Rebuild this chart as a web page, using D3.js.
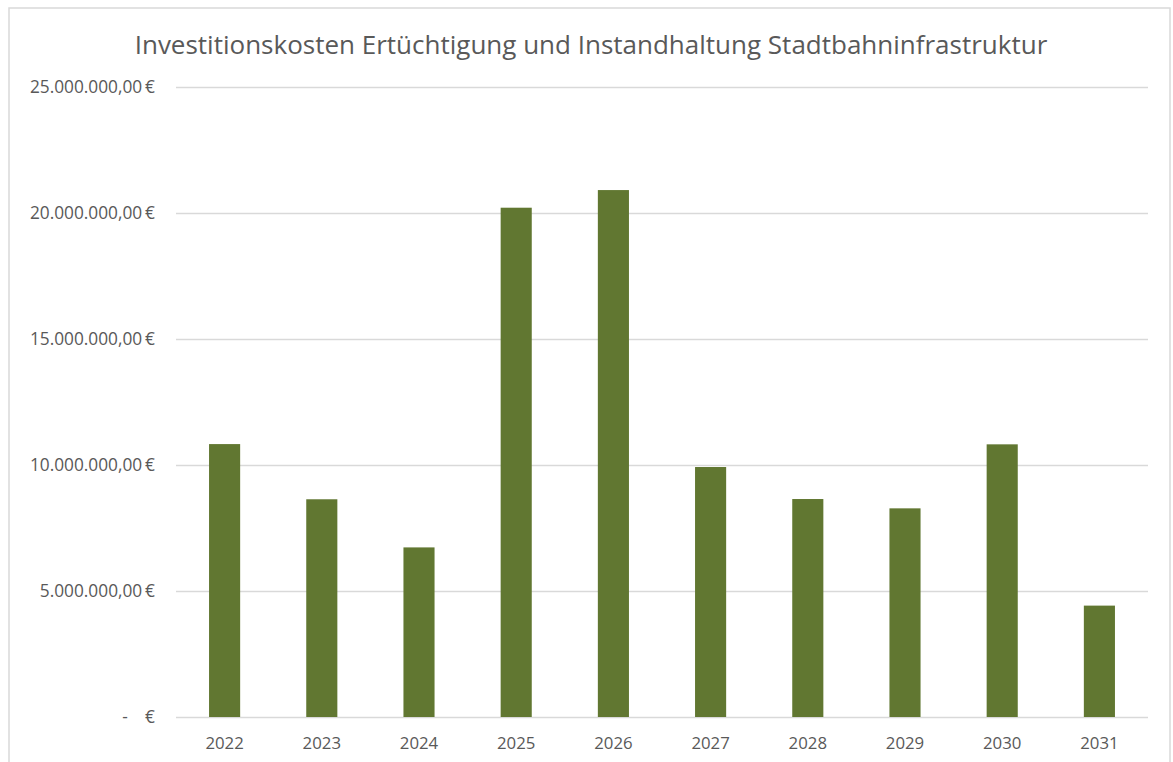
<!DOCTYPE html>
<html lang="de">
<head>
<meta charset="utf-8">
<title>Investitionskosten Stadtbahninfrastruktur</title>
<script src="https://cdn.jsdelivr.net/npm/d3@7"></script>
<style>
  html, body { margin: 0; padding: 0; background: #fff; }
  svg { display: block; }
  text { font-family: "Open Sans", "Noto Sans", sans-serif; fill: #595959; }
</style>
</head>
<body>
<svg id="chart" width="1173" height="762"></svg>
<script>
// Investitionskosten je Jahr (EUR)
const years = ["2022", "2023", "2024", "2025", "2026", "2027", "2028", "2029", "2030", "2031"];
const costs = [10830000, 8640000, 6730000, 20210000, 20910000, 9920000, 8650000, 8280000, 10820000, 4420000];
const yTicks = [0, 5000000, 10000000, 15000000, 20000000, 25000000];
const title = "Investitionskosten Ertüchtigung und Instandhaltung Stadtbahninfrastruktur";

const W = 1173, H = 762;
const margin = { top: 87, right: 25, bottom: 45, left: 176 };

const svg = d3.select("#chart");

// chart frame
svg.append("rect")
  .attr("x", 9).attr("y", 8)
  .attr("width", 1161).attr("height", 780)
  .attr("fill", "#fff")
  .attr("stroke", "#d9d9d9")
  .attr("stroke-width", 1.5);

const x = d3.scaleBand()
  .domain(years)
  .range([margin.left, W - margin.right])
  .paddingInner(0.68)
  .paddingOuter(0.34);

const y = d3.scaleLinear()
  .domain([0, 25000000])
  .range([H - margin.bottom, margin.top]);

// German accounting format: 25.000.000,00 €, zero shown as "-   €"
const deFormat = d3.formatLocale({
  decimal: ",", thousands: ".", grouping: [3], currency: ["", " €"]
}).format(",.2f");
const fmtEuro = v => v === 0 ? "-\u2002\u2002€" : deFormat(v) + "\u2009€";

// horizontal gridlines + value labels
const yAxis = d3.axisLeft(y)
  .tickValues(yTicks)
  .tickSize(-(W - margin.right - margin.left))
  .tickPadding(21)
  .tickFormat(fmtEuro);

const gy = svg.append("g")
  .attr("transform", `translate(${margin.left},0)`)
  .call(yAxis);
gy.select(".domain").remove();
gy.selectAll(".tick line")
  .attr("stroke", "#d9d9d9")
  .attr("stroke-width", 1.5);
gy.selectAll(".tick text")
  .attr("fill", "#595959")
  .style("font-size", "17.3px")
  .attr("dy", "0.34em");

// bars
svg.append("g")
  .selectAll("rect")
  .data(years.map((yr, i) => ({ yr, v: costs[i] })))
  .join("rect")
  .attr("x", d => x(d.yr))
  .attr("width", x.bandwidth())
  .attr("y", d => y(d.v))
  .attr("height", d => y(0) - y(d.v))
  .attr("fill", "#617731");

// year labels
const xAxis = d3.axisBottom(x).tickSize(0).tickPadding(20);
const gx = svg.append("g")
  .attr("transform", `translate(0,${H - margin.bottom})`)
  .call(xAxis);
gx.select(".domain").remove();
gx.selectAll(".tick text")
  .attr("fill", "#595959")
  .style("font-size", "16.8px");

// title
svg.append("text")
  .attr("x", 591)
  .attr("y", 54)
  .attr("text-anchor", "middle")
  .style("font-size", "26px")
  .text(title);
</script>
</body>
</html>
